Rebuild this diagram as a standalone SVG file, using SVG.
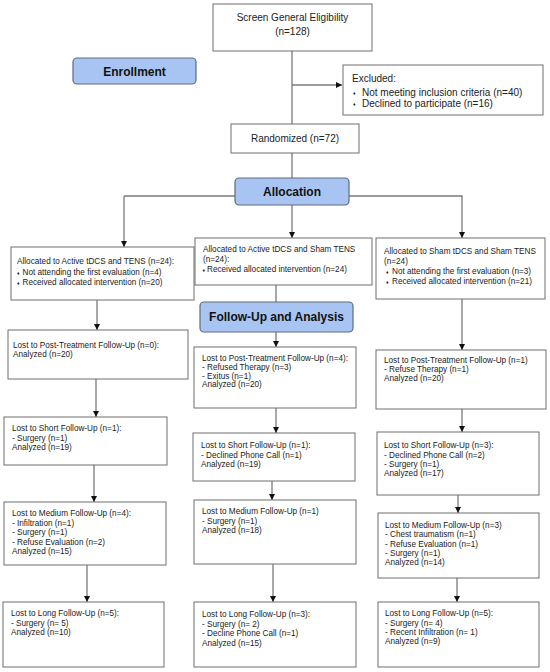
<svg xmlns="http://www.w3.org/2000/svg" width="550" height="672" viewBox="0 0 550 672">
<style>
.box{fill:#fff;stroke:#6e6e6e;stroke-width:1}
.hdr{fill:#a8c4f2;stroke:#5e6a80;stroke-width:1.2}
.ln{fill:none;stroke:#7a7a7a;stroke-width:1.3}
text{font-family:"Liberation Sans",Arial,sans-serif;fill:#222}
.t10{font-size:10px}
.t8{font-size:8.2px}
.b{font-size:5px}
.h{font-size:12px;font-weight:700;fill:#111}
.c{text-anchor:middle}
</style>
<defs>
<marker id="ah" markerUnits="userSpaceOnUse" markerWidth="7" markerHeight="7" refX="6" refY="3.5" orient="auto">
<path d="M0,0.5 L6,3.5 L0,6.5 Z" fill="#111"/>
</marker>
</defs>
<rect width="550" height="672" fill="#fff"/>

<g id="connectors">
<line class="ln" x1="292" y1="51" x2="292" y2="124"/>
<line class="ln" x1="292" y1="85" x2="342" y2="85" marker-end="url(#ah)"/>
<line class="ln" x1="292" y1="153" x2="292" y2="178"/>
<polyline class="ln" points="124,196 462,196 462,238" marker-end="url(#ah)"/>
<line class="ln" x1="124" y1="196" x2="124" y2="247" marker-end="url(#ah)"/>
<line class="ln" x1="292" y1="205" x2="292" y2="238" marker-end="url(#ah)"/>
<line class="ln" x1="97" y1="300" x2="97" y2="330" marker-end="url(#ah)"/>
<line class="ln" x1="96" y1="379" x2="96" y2="417" marker-end="url(#ah)"/>
<line class="ln" x1="94" y1="465" x2="94" y2="502" marker-end="url(#ah)"/>
<line class="ln" x1="87" y1="565" x2="87" y2="602" marker-end="url(#ah)"/>
<line class="ln" x1="276" y1="285" x2="276" y2="302"/>
<line class="ln" x1="276" y1="332" x2="276" y2="347" marker-end="url(#ah)"/>
<line class="ln" x1="276" y1="408" x2="276" y2="433" marker-end="url(#ah)"/>
<line class="ln" x1="272" y1="481" x2="272" y2="500" marker-end="url(#ah)"/>
<line class="ln" x1="273" y1="564" x2="273" y2="602" marker-end="url(#ah)"/>
<line class="ln" x1="462" y1="299" x2="462" y2="350" marker-end="url(#ah)"/>
<line class="ln" x1="462" y1="409" x2="462" y2="432" marker-end="url(#ah)"/>
<line class="ln" x1="458" y1="495" x2="458" y2="513" marker-end="url(#ah)"/>
<line class="ln" x1="457" y1="578" x2="457" y2="602" marker-end="url(#ah)"/>
</g>

<g id="screen">
<rect class="box" x="213" y="4" width="159" height="47"/>
<text class="t10 c" x="292.5" y="21">Screen General Eligibility</text>
<text class="t10 c" x="292.5" y="34.5">(n=128)</text>
</g>

<g id="enrollment">
<rect class="hdr" x="73" y="58" width="123" height="26" rx="4"/>
<text class="h c" x="134.5" y="75.5">Enrollment</text>
</g>

<g id="excluded">
<rect class="box" x="343" y="65" width="200" height="50"/>
<text class="t10" x="352" y="82">Excluded:</text>
<text class="b" x="353" y="94.5">♦</text>
<text class="t10" x="362" y="95.5">Not meeting inclusion criteria (n=40)</text>
<text class="b" x="353" y="106">♦</text>
<text class="t10" x="362" y="107">Declined to participate (n=16)</text>
</g>

<g id="randomized">
<rect class="box" x="231" y="124" width="128" height="29"/>
<text class="t10 c" x="295" y="142">Randomized (n=72)</text>
</g>

<g id="allocation">
<rect class="hdr" x="235" y="178" width="114" height="27" rx="4"/>
<text class="h c" x="292" y="196">Allocation</text>
</g>

<g id="left1">
<rect class="box" x="11" y="247" width="183" height="53"/>
<text class="t8" x="17" y="264">Allocated to Active tDCS and TENS (n=24):</text>
<text class="b" x="17" y="274.5">♦</text>
<text class="t8" x="22.5" y="275">Not attending the first evaluation (n=4)</text>
<text class="b" x="17" y="284.5">♦</text>
<text class="t8" x="22.5" y="285">Received allocated intervention (n=20)</text>
</g>

<g id="left2">
<rect class="box" x="8" y="330" width="180" height="49"/>
<text class="t8" x="13" y="348">Lost to Post-Treatment Follow-Up (n=0):</text>
<text class="t8" x="13" y="357">Analyzed (n=20)</text>
</g>

<g id="left3">
<rect class="box" x="4" y="417" width="163" height="48"/>
<text class="t8" x="12" y="431">Lost to Short Follow-Up (n=1):</text>
<text class="t8" x="12" y="440.5">- Surgery (n=1)</text>
<text class="t8" x="12" y="450">Analyzed (n=19)</text>
</g>

<g id="left4">
<rect class="box" x="4" y="502" width="162" height="63"/>
<text class="t8" x="12" y="516">Lost to Medium Follow-Up (n=4):</text>
<text class="t8" x="12" y="525.5">- Infiltration (n=1)</text>
<text class="t8" x="12" y="535">- Surgery (n=1)</text>
<text class="t8" x="12" y="544.5">- Refuse Evaluation (n=2)</text>
<text class="t8" x="12" y="554">Analyzed (n=15)</text>
</g>

<g id="left5">
<rect class="box" x="3" y="602" width="161" height="65"/>
<text class="t8" x="11" y="616">Lost to Long Follow-Up (n=5):</text>
<text class="t8" x="11" y="625.5">- Surgery (n= 5)</text>
<text class="t8" x="11" y="635">Analyzed (n=10)</text>
</g>

<g id="mid1">
<rect class="box" x="195" y="238" width="177" height="47"/>
<text class="t8" x="203" y="252">Allocated to Active tDCS and Sham TENS</text>
<text class="t8" x="203" y="262">(n=24):</text>
<text class="b" x="202.5" y="271.5">♦</text>
<text class="t8" x="207" y="272">Received allocated intervention (n=24)</text>
</g>

<g id="followup">
<rect class="hdr" x="200" y="302" width="153" height="30" rx="4"/>
<text class="h c" x="276.5" y="321">Follow-Up and Analysis</text>
</g>

<g id="mid2">
<rect class="box" x="194" y="347" width="162" height="61"/>
<text class="t8" x="202" y="361">Lost to Post-Treatment Follow-Up (n=4):</text>
<text class="t8" x="202" y="370">- Refused Therapy (n=3)</text>
<text class="t8" x="202" y="378.5">- Exitus (n=1)</text>
<text class="t8" x="202" y="387">Analyzed (n=20)</text>
</g>

<g id="mid3">
<rect class="box" x="193" y="433" width="162" height="48"/>
<text class="t8" x="201" y="448">Lost to Short Follow-Up (n=1):</text>
<text class="t8" x="201" y="457.5">- Declined Phone Call (n=1)</text>
<text class="t8" x="201" y="467">Analyzed (n=19)</text>
</g>

<g id="mid4">
<rect class="box" x="194" y="500" width="162" height="64"/>
<text class="t8" x="202" y="514">Lost to Medium Follow-Up (n=1)</text>
<text class="t8" x="202" y="524">- Surgery (n=1)</text>
<text class="t8" x="202" y="533">Analyzed (n=18)</text>
</g>

<g id="mid5">
<rect class="box" x="194" y="602" width="162" height="65"/>
<text class="t8" x="202" y="617">Lost to Long Follow-Up (n=3):</text>
<text class="t8" x="202" y="626.5">- Surgery (n= 2)</text>
<text class="t8" x="202" y="636">- Decline Phone Call (n=1)</text>
<text class="t8" x="202" y="645.5">Analyzed (n=15)</text>
</g>

<g id="right1">
<rect class="box" x="376" y="238" width="169" height="61"/>
<text class="t8" x="384" y="254">Allocated to Sham tDCS and Sham TENS</text>
<text class="t8" x="384" y="264">(n=24)</text>
<text class="b" x="386" y="273.5">♦</text>
<text class="t8" x="392" y="274">Not attending the first evaluation (n=3)</text>
<text class="b" x="386" y="283.5">♦</text>
<text class="t8" x="392" y="284">Received allocated intervention (n=21)</text>
</g>

<g id="right2">
<rect class="box" x="376" y="350" width="170" height="59"/>
<text class="t8" x="384" y="363">Lost to Post-Treatment Follow-Up (n=1)</text>
<text class="t8" x="384" y="372">- Refuse Therapy (n=1)</text>
<text class="t8" x="384" y="381">Analyzed (n=20)</text>
</g>

<g id="right3">
<rect class="box" x="377" y="432" width="162" height="63"/>
<text class="t8" x="384" y="448">Lost to Short Follow-Up (n=3):</text>
<text class="t8" x="384" y="457.5">- Declined Phone Call (n=2)</text>
<text class="t8" x="384" y="467">- Surgery (n=1)</text>
<text class="t8" x="384" y="476">Analyzed (n=17)</text>
</g>

<g id="right4">
<rect class="box" x="378" y="513" width="161" height="65"/>
<text class="t8" x="385" y="528">Lost to Medium Follow-Up (n=3)</text>
<text class="t8" x="385" y="537">- Chest traumatism (n=1)</text>
<text class="t8" x="385" y="546.5">- Refuse Evaluation (n=1)</text>
<text class="t8" x="385" y="556">- Surgery (n=1)</text>
<text class="t8" x="385" y="565">Analyzed (n=14)</text>
</g>

<g id="right5">
<rect class="box" x="378" y="602" width="161" height="65"/>
<text class="t8" x="385" y="616">Lost to Long Follow-Up (n=5):</text>
<text class="t8" x="385" y="625.5">- Surgery (n= 4)</text>
<text class="t8" x="385" y="635">- Recent Infiltration (n= 1)</text>
<text class="t8" x="385" y="644">Analyzed (n=9)</text>
</g>
</svg>
